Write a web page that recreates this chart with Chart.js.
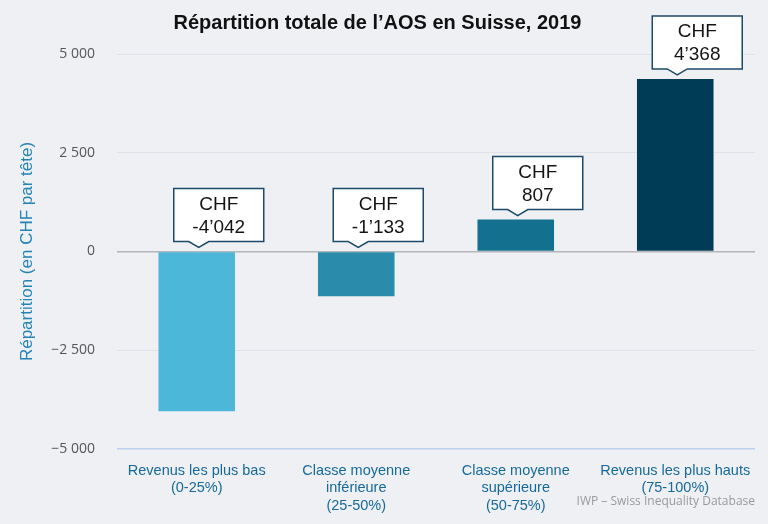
<!DOCTYPE html>
<html>
<head>
<meta charset="utf-8">
<script src="https://cdn.jsdelivr.net/npm/chart.js@4/dist/chart.umd.min.js"></script>
<style>
html,body{margin:0;padding:0;background:#eef0f4;}
#wrap{width:768px;height:524px;position:relative;}
</style>
</head>
<body>
<div id="wrap"><canvas id="c" width="768" height="524"></canvas></div>
<script>
const categories = [
  ['Revenus les plus bas', '(0-25%)'],
  ['Classe moyenne', 'inférieure', '(25-50%)'],
  ['Classe moyenne', 'supérieure', '(50-75%)'],
  ['Revenus les plus hauts', '(75-100%)']
];
const values = [-4042, -1133, 807, 4368];
const barColors = ['#4db7d9', '#2a8bab', '#13708e', '#013c57'];
const yTicks = [-5000, -2500, 0, 2500, 5000];
const titleText = 'Répartition totale de l’AOS en Suisse, 2019';
const yTitle = 'Répartition (en CHF par tête)';
const sourceText = 'IWP – Swiss Inequality Database';

function fmtTick(v){
  const s = Math.abs(v).toString().replace(/\B(?=(\d{3})+(?!\d))/g, ' ');
  return (v < 0 ? '−' : '') + s;
}
function fmtVal(v){
  const s = Math.abs(v).toString().replace(/\B(?=(\d{3})+(?!\d))/g, '’');
  return (v < 0 ? '-' : '') + s;
}

const bgPlugin = {
  id: 'bg',
  beforeDraw(chart){
    const ctx = chart.ctx;
    ctx.save();
    ctx.fillStyle = '#eef0f4';
    ctx.fillRect(0, 0, chart.width, chart.height);
    ctx.restore();
  }
};

const calloutPlugin = {
  id: 'callouts',
  afterDatasetsDraw(chart){
    const ctx = chart.ctx;
    const meta = chart.getDatasetMeta(0);
    const yScale = chart.scales.y;
    const zeroY = yScale.getPixelForValue(0);
    ctx.save();
    meta.data.forEach((bar, i) => {
      const v = values[i];
      const anchorY = v >= 0 ? bar.y : zeroY;
      const tipX = bar.x + 2;
      const tipY = anchorY - 4;
      const ph = 6, pw = 10;
      const bw = 90, bh = 53;
      const bx = tipX - 25;
      const by = tipY - ph - bh;
      ctx.beginPath();
      ctx.moveTo(bx, by);
      ctx.lineTo(bx + bw, by);
      ctx.lineTo(bx + bw, by + bh);
      ctx.lineTo(tipX + pw, by + bh);
      ctx.lineTo(tipX, tipY);
      ctx.lineTo(tipX - pw, by + bh);
      ctx.lineTo(bx, by + bh);
      ctx.closePath();
      ctx.fillStyle = '#ffffff';
      ctx.fill();
      ctx.lineWidth = 1.5;
      ctx.strokeStyle = '#1c4a68';
      ctx.stroke();
      ctx.fillStyle = '#141414';
      ctx.font = '19px "Liberation Sans", Arial, sans-serif';
      ctx.textAlign = 'center';
      ctx.textBaseline = 'middle';
      ctx.fillText('CHF', bx + bw / 2, by + 16);
      ctx.fillText(fmtVal(v), bx + bw / 2, by + 39);
    });
    ctx.restore();
  }
};

const sourcePlugin = {
  id: 'source',
  afterDraw(chart){
    const ctx = chart.ctx;
    ctx.save();
    ctx.fillStyle = '#9a9a9a';
    ctx.font = '12px "Open Sans", sans-serif';
    ctx.textAlign = 'right';
    ctx.textBaseline = 'middle';
    ctx.fillText(sourceText, 755, 502);
    ctx.restore();
  }
};

new Chart(document.getElementById('c'), {
  type: 'bar',
  data: {
    labels: categories,
    datasets: [{
      data: values,
      backgroundColor: barColors,
      borderWidth: 0,
      barPercentage: 0.48,
      categoryPercentage: 1.0
    }]
  },
  options: {
    responsive: false,
    animation: false,
    devicePixelRatio: 1,
    layout: { padding: { left: 0, right: 13, top: 0, bottom: 0 } },
    plugins: {
      legend: { display: false },
      tooltip: { enabled: false },
      title: {
        display: true,
        text: titleText,
        color: '#111111',
        font: { family: '"Liberation Sans", Arial, sans-serif', size: 20, weight: 'bold' },
        padding: { top: 11, bottom: 19 }
      }
    },
    scales: {
      x: {
        grid: { display: false },
        border: { display: false },
        ticks: {
          color: '#17699a',
          font: { family: '"Liberation Sans", Arial, sans-serif', size: 14.5, lineHeight: 1.2 },
          padding: 5,
          maxRotation: 0,
          autoSkip: false
        },
        afterFit(s){ s.height = 75; }
      },
      y: {
        min: -5000,
        max: 5000,
        afterBuildTicks(s){ s.ticks = yTicks.map(v => ({ value: v })); },
        grid: {
          drawTicks: false,
          color: (c) => c.tick && c.tick.value === 0 ? '#b4b6ba' : (c.tick && c.tick.value === -5000 ? '#b9d1ec' : '#dfe2e8'),
          lineWidth: (c) => c.tick && (c.tick.value === 0 || c.tick.value === -5000) ? 1.5 : 1
        },
        border: { display: false },
        ticks: {
          color: '#555555',
          font: { family: '"Open Sans", sans-serif', size: 14 },
          padding: 22,
          callback: (v) => fmtTick(v)
        },
        title: {
          display: true,
          text: yTitle,
          color: '#2383b5',
          font: { family: '"Liberation Sans", Arial, sans-serif', size: 17 },
          padding: { top: 17, bottom: 0 }
        },
        afterFit(s){ s.width = 117; }
      }
    }
  },
  plugins: [bgPlugin, calloutPlugin, sourcePlugin]
});
</script>
</body>
</html>
